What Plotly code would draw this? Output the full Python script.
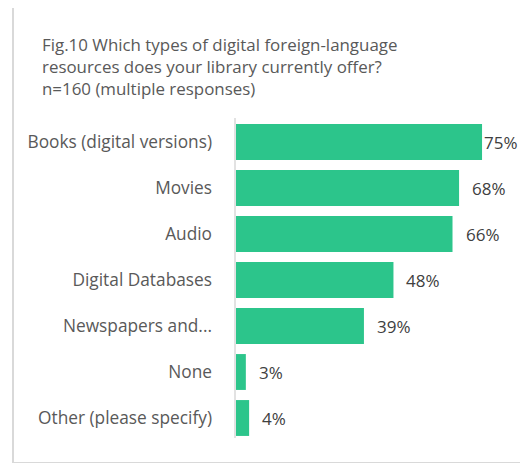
import plotly.graph_objects as go

categories = ["Books (digital versions)", "Movies", "Audio", "Digital Databases",
              "Newspapers and...", "None", "Other (please specify)"]
values = [75, 68, 66, 48, 39, 3, 4]
value_labels = ["75%", "68%", "66%", "48%", "39%", "3%", "4%"]
title_lines = ["Fig.10 Which types of digital foreign-language",
               "resources does your library currently offer?",
               "n=160 (multiple responses)"]

# page body has an 8px default margin; work in reference pixel coords and shift
OFF = 8
W, H = 528 - 2 * OFF, 471 - 2 * OFF
plot_left, plot_right, plot_top, plot_bottom = 236, 505, 119, 441
L = plot_left - OFF
R = (528 - OFF) - plot_right
T = plot_top - OFF
B = (471 - OFF) - plot_bottom
pw, ph = plot_right - plot_left, plot_bottom - plot_top

def px_x(x):
    return (x - plot_left) / pw

def px_y(y):
    return (plot_bottom - y) / ph

font = "Open Sans"
text_grey = "#595959"

label_shift = [0, 11, 11, 11, 11, 11, 11]

fig = go.Figure(go.Bar(
    y=categories, x=values, orientation="h",
    marker=dict(color="#2CC58B", line=dict(width=0)),
    hoverinfo="skip",
))

annotations = []
for cat, val, lab, sh in zip(categories, values, value_labels, label_shift):
    annotations.append(dict(
        x=val, y=cat, xref="x", yref="y", text=lab, showarrow=False,
        xanchor="left", yanchor="middle", xshift=sh,
        font=dict(family=font, size=17, color="#404040"),
    ))

annotations.append(dict(
    xref="paper", yref="paper", x=px_x(40), y=px_y(30.5),
    xanchor="left", yanchor="top", align="left", showarrow=False,
    text="<br>".join(title_lines),
    font=dict(family=font, size=16.9, color=text_grey),
))

fig.update_layout(
    width=W, height=H,
    margin=dict(l=L, r=R, t=T, b=B, pad=0, autoexpand=False),
    paper_bgcolor="white", plot_bgcolor="white",
    showlegend=False, bargap=0.22,
    xaxis=dict(range=[0, 82], visible=False, fixedrange=True),
    yaxis=dict(autorange="reversed", showgrid=False, zeroline=False,
               showline=False, ticks="", ticklabelstandoff=23,
               automargin=False, fixedrange=True,
               tickfont=dict(family=font, size=17.3, color=text_grey)),
    shapes=[
        dict(type="rect", xref="paper", yref="paper",
             x0=px_x(13), x1=px_x(522), y0=px_y(463), y1=px_y(5),
             line=dict(color="#D9D9D9", width=2), layer="below"),
        dict(type="line", xref="paper", yref="paper",
             x0=px_x(235), x1=px_x(235), y0=px_y(438), y1=px_y(118),
             line=dict(color="#D9D9D9", width=1.5), layer="below"),
    ],
    annotations=annotations,
)

fig.write_html("out.html")
